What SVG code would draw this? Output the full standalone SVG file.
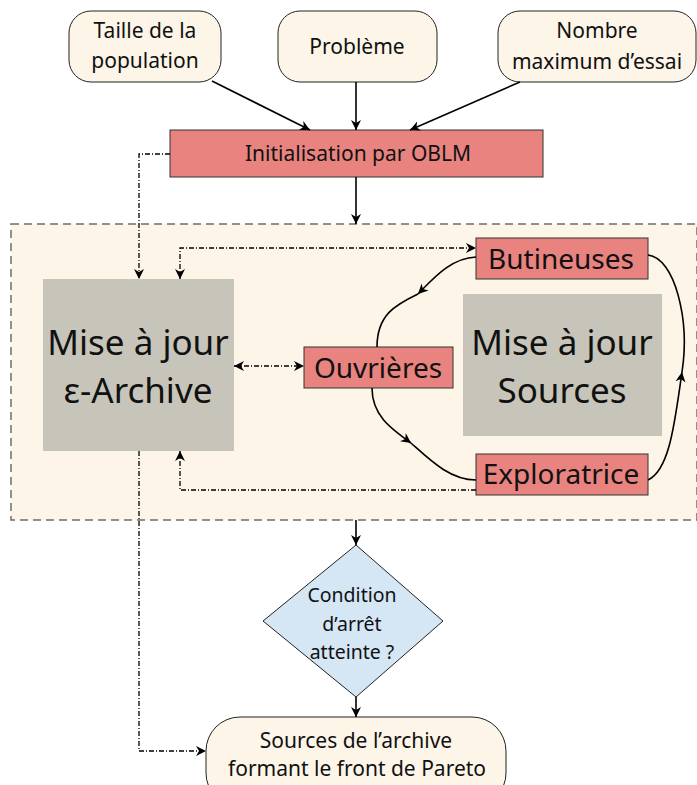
<svg xmlns="http://www.w3.org/2000/svg" width="697" height="785" viewBox="0 0 697 785">
<style>
text{font-family:"Noto Sans","Open Sans",sans-serif;fill:#111;text-anchor:middle}
.inp{fill:#fcf5e8;stroke:#222;stroke-width:1}
.red{fill:#e8837f;stroke:#333;stroke-width:1}
.gray{fill:#c7c4b9}
.solid{fill:none;stroke:#000;stroke-width:1.6}
.dd{fill:none;stroke:#000;stroke-width:1.3;stroke-dasharray:5 2 1 2}
.t21{font-size:21px}
.t28{font-size:28px}
.t35{font-size:35px}
</style>
<defs>
<marker id="ah" viewBox="0 0 10 10" refX="10" refY="5" markerWidth="10" markerHeight="10" markerUnits="userSpaceOnUse" orient="auto-start-reverse">
<path d="M0,0 L10,5 L0,10 L3,5 z" fill="#000"/>
</marker>
</defs>
<g id="container">
<rect x="11" y="224" width="686" height="296" fill="#fcf5e8" stroke="#6e6e6e" stroke-width="1.5" stroke-dasharray="8 5"/>
</g>
<g id="taille">
<rect class="inp" x="69" y="11" width="152" height="71" rx="22"/>
<text class="t21" x="145" y="38">Taille de la</text>
<text class="t21" x="145" y="68">population</text>
</g>
<g id="probleme">
<rect class="inp" x="278" y="11" width="159" height="71" rx="22"/>
<text class="t21" x="357" y="54">Problème</text>
</g>
<g id="nombre">
<rect class="inp" x="498" y="11" width="198" height="71" rx="22"/>
<text class="t21" x="597" y="38">Nombre</text>
<text class="t21" x="597" y="69">maximum d’essai</text>
</g>
<g id="init">
<rect class="red" x="170" y="130" width="373" height="47"/>
<text class="t21" x="358" y="161">Initialisation par OBLM</text>
</g>
<g id="archive">
<rect class="gray" x="43" y="279" width="191" height="172"/>
<text class="t35" x="138" y="355">Mise à jour</text>
<text class="t35" x="138" y="403">ε-Archive</text>
</g>
<g id="sources">
<rect class="gray" x="463" y="294" width="199" height="142"/>
<text class="t35" x="562" y="355">Mise à jour</text>
<text class="t35" x="562" y="403">Sources</text>
</g>
<g id="butineuses">
<rect class="red" x="476" y="238" width="172" height="41"/>
<text class="t28" x="561" y="269">Butineuses</text>
</g>
<g id="ouvrieres">
<rect class="red" x="304" y="347" width="149" height="41"/>
<text class="t28" x="378" y="378">Ouvrières</text>
</g>
<g id="exploratrice">
<rect class="red" x="476" y="454" width="172" height="41"/>
<text class="t28" x="561" y="484">Exploratrice</text>
</g>
<g id="condition">
<polygon points="356,545 443,621 356,697 263,621" fill="#d5e6f5" stroke="#222" stroke-width="1"/>
<text font-size="19.5" x="352" y="602">Condition</text>
<text font-size="19.5" x="352" y="631">d’arrêt</text>
<text font-size="19.5" x="352" y="659">atteinte ?</text>
</g>
<g id="resultat">
<rect class="inp" x="206" y="717" width="300" height="90" rx="34"/>
<text class="t21" x="356" y="748">Sources de l’archive</text>
<text class="t21" x="357" y="776">formant le front de Pareto</text>
</g>
<g id="connectors">
<path class="solid" d="M212,81 L310,130" marker-end="url(#ah)"/>
<path class="solid" d="M356,82 L356,130" marker-end="url(#ah)"/>
<path class="solid" d="M520,82 L410,130" marker-end="url(#ah)"/>
<path class="solid" d="M356,177 L356,224" marker-end="url(#ah)"/>
<path class="solid" d="M356,520 L356,545" marker-end="url(#ah)"/>
<path class="solid" d="M356,697 L356,717" marker-end="url(#ah)"/>
<path class="dd" d="M170,154 L139,154 L139,279" marker-end="url(#ah)"/>
<path class="dd" d="M180,279 L180,248 L476,248" marker-start="url(#ah)" marker-end="url(#ah)"/>
<path class="dd" d="M234,366 L304,366" marker-start="url(#ah)" marker-end="url(#ah)"/>
<path class="dd" d="M476,490 L180,490 L180,451" marker-end="url(#ah)"/>
<path class="dd" d="M139,451 L139,751 L206,751" marker-end="url(#ah)"/>
<path class="solid" d="M476,257 C450,258 432,280 418,294" marker-end="url(#ah)"/>
<path class="solid" d="M418,294 C395,305 377,315 377,347"/>
<path class="solid" d="M372,388 C372,415 390,428 411,443" marker-end="url(#ah)"/>
<path class="solid" d="M411,443 C430,460 450,480 476,480"/>
<path class="solid" d="M648,480 C670,470 675,420 682,372" marker-end="url(#ah)"/>
<path class="solid" d="M682,372 C690,320 675,258 648,255"/>
</g>
</svg>
